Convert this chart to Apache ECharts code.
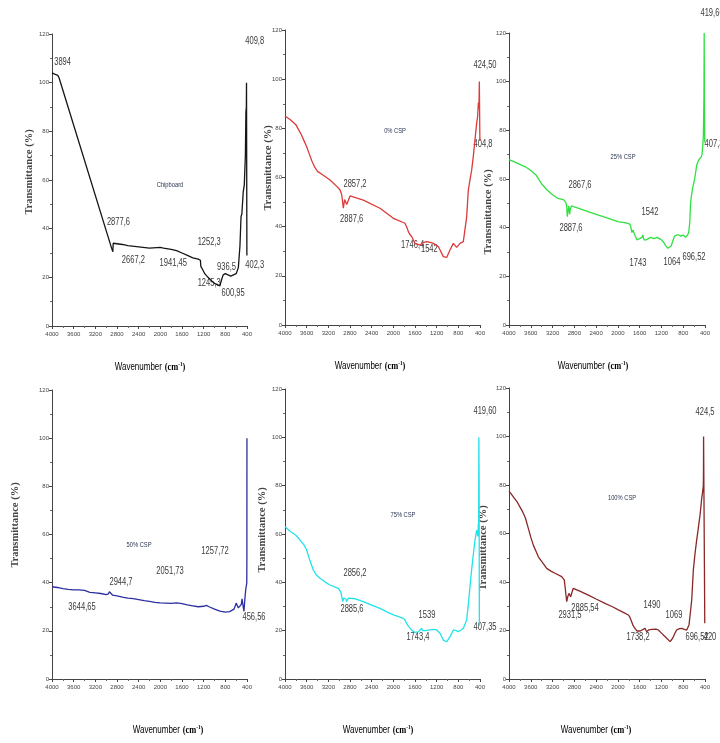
<!DOCTYPE html>
<html>
<head>
<meta charset="utf-8">
<script src="https://cdn.jsdelivr.net/npm/echarts@6/dist/echarts.min.js"></script>
<style>
  html, body { margin: 0; padding: 0; background: #fff; }
  #chart { width: 720px; height: 743px; }
</style>
</head>
<body>
<div id="chart"></div>
<script>
// FTIR spectra, [wavenumber cm-1, transmittance %]
const chipboard = [[4000,104],[3980,104.5],[3950,103.5],[3894,103],[3870,102],[2900,32],[2877,30.5],[2870,34],[2850,34],[2700,33.5],[2600,33],[2400,32.5],[2200,32],[2000,32.3],[1941,32],[1800,31.5],[1700,31],[1600,30],[1500,29],[1400,28],[1300,27.5],[1260,27],[1252,24.5],[1235,25],[1215,23],[1180,21.5],[1120,20],[1050,18.5],[1000,17.5],[950,17],[920,17.5],[900,16.5],[870,19],[840,21],[800,21.5],[750,21],[700,20.5],[650,21],[600,21.5],[560,24],[530,33],[510,45],[495,46],[470,55],[450,58],[430,70],[420,88],[412,90],[409,100],[405,100],[402,29]];

const csp0 = [[4000,85],[3900,83.5],[3800,81.5],[3750,79.5],[3700,77.5],[3650,75],[3600,72.5],[3550,69.5],[3500,66.5],[3446,64],[3400,62.5],[3300,61],[3169,59],[3050,56.5],[2985,55],[2953,53],[2923,47.5],[2900,51],[2880,50.8],[2860,49],[2843,49.5],[2800,52.5],[2554,50.8],[2246,47.5],[2000,43.4],[1785,41.4],[1746,39.5],[1723,38],[1700,37],[1662,36],[1600,33.2],[1508,32.5],[1450,33.5],[1384,33.9],[1300,33.5],[1262,33.2],[1169,31.9],[1077,27.8],[1015,27.5],[954,30.5],[892,33.2],[831,31.6],[769,33.2],[708,33.9],[646,44],[615,55],[585,59],[554,63],[523,68.7],[492,75.5],[462,82],[443,85],[430,90.5],[420,88],[412,99],[402,74.8]];

const csp25 = [[4000,68],[3900,67],[3800,66],[3700,65],[3600,63.5],[3500,61.5],[3400,58],[3300,55.5],[3200,53.5],[3100,52],[3000,51.5],[2960,50.5],[2940,49],[2930,44.5],[2915,47],[2900,49],[2887,45.5],[2870,48],[2850,49],[2800,48.5],[2600,47],[2400,45.5],[2200,44],[2000,42.5],[1850,42],[1780,41.5],[1760,40],[1743,38],[1720,39],[1700,37.5],[1650,35],[1600,35.5],[1580,35],[1560,36],[1542,37],[1520,35],[1480,35],[1440,35.5],[1400,36],[1340,35.5],[1280,36],[1240,35.5],[1200,35],[1160,34],[1120,32.5],[1080,31.5],[1050,31.5],[1020,32.5],[1000,34],[960,36.5],[920,37],[880,37],[840,36.5],[800,37],[760,36],[720,37],[700,38],[680,42],[665,50],[650,53],[630,56],[610,58],[590,60],[570,63],[550,66],[530,67],[510,68],[490,68.5],[470,69],[455,70],[440,74],[430,78],[425,85],[420,93],[418,100],[415,120],[410,90],[405,75]];

const csp50 = [[4000,38.3],[3900,38],[3800,37.5],[3700,37.2],[3600,37],[3500,37],[3400,36.8],[3300,36],[3200,35.8],[3100,35.5],[3000,35],[2960,35.3],[2940,36.2],[2920,35.5],[2880,34.8],[2800,34.5],[2700,34],[2600,33.6],[2500,33.4],[2400,33],[2300,32.5],[2200,32.2],[2100,31.8],[2000,31.6],[1900,31.5],[1800,31.4],[1700,31.6],[1600,31.3],[1500,30.8],[1400,30.4],[1300,30],[1200,30.2],[1150,30.6],[1100,30],[1000,29],[900,28.2],[800,27.8],[720,28],[680,28.5],[640,29],[600,31.5],[583,31.3],[560,29.5],[534,28.8],[505,31],[491,33.3],[470,30],[456,28.1],[440,33],[423,37.3],[410,39],[404,40],[402,52],[401,100]];

const csp75 = [[4000,63],[3900,61],[3800,59.5],[3723,57.5],[3650,55.5],[3600,53.4],[3540,49],[3477,45.1],[3420,43],[3354,41.7],[3250,40],[3169,38.9],[3016,37.5],[2972,36.1],[2950,34],[2935,32],[2915,33.5],[2892,34],[2875,33],[2862,32],[2830,33.5],[2800,34],[2700,33.2],[2554,32],[2400,30.6],[2246,29.2],[2100,27.6],[2000,26.5],[1900,25.8],[1815,25.1],[1780,24.2],[1754,23],[1720,21.8],[1692,21],[1660,20.2],[1631,19.6],[1600,19.3],[1569,18.9],[1540,19.5],[1508,20.3],[1477,21],[1460,20],[1446,19.6],[1400,20],[1323,20.3],[1260,20.5],[1200,20.3],[1170,19.8],[1138,18.9],[1100,17.2],[1077,16.1],[1015,15.4],[985,16.2],[954,17.5],[920,19],[892,20.3],[840,20],[800,19.6],[750,20.3],[708,21],[680,22.5],[646,24.4],[615,31],[585,38.2],[560,44],[535,49.2],[510,54],[492,57.5],[462,61.6],[450,62],[440,59],[430,64],[425,65],[421,100],[416,80],[412,22]];

const csp100 = [[4000,77.5],[3950,76],[3900,74.5],[3850,73],[3800,71],[3750,69],[3700,66.5],[3650,62.5],[3600,58.5],[3550,55],[3500,52.5],[3461,50.4],[3400,48.5],[3308,45.6],[3230,44.5],[3155,43.6],[3032,42.2],[2984,40.8],[2960,36],[2940,31.9],[2920,34],[2898,35.3],[2880,34.5],[2867,33.9],[2840,36],[2819,37.4],[2700,36.2],[2543,34.6],[2400,33],[2237,31.2],[2100,29.8],[1992,28.5],[1900,27.5],[1808,26.4],[1780,25.5],[1747,23.6],[1720,22],[1686,20.9],[1650,19.8],[1625,19.1],[1590,19.8],[1563,20.2],[1502,20.9],[1471,19.5],[1430,20.3],[1379,20.5],[1300,20.6],[1257,20.2],[1195,18.8],[1150,17.8],[1103,16.8],[1042,15.4],[1010,16.3],[982,17.4],[950,19],[920,20.2],[870,20.8],[828,20.9],[780,20.5],[736,20.2],[694,22.3],[670,27],[644,32.6],[614,45],[583,51.8],[553,57.3],[530,61],[510,64.5],[493,67.3],[475,71],[462,74.2],[445,77],[431,79.7],[428,85],[426,100],[404,23]];

// peak labels: [wavenumber, transmittance, text]
const chipboardPeaks = [[3804,108.5,'3894'],[2773,42.9,'2877,6'],[2497,27.2,'2667,2'],[1761,25.8,'1941,45'],[1098,34.3,'1252,3'],[779,24.4,'936,5'],[1098,17.8,'1245,3'],[656,13.4,'600,95'],[258,25.1,'402,3'],[258,116.9,'409,8']];
const csp0Peaks = [[2708,57.4,'2857,2'],[2770,43,'2887,6'],[1643,32.7,'1746,4'],[1335,30.9,'1542'],[308,105.8,'424,50'],[345,73.6,'404,8']];
const csp25Peaks = [[271,128,'419,60'],[235,74.4,'407,3'],[2696,57.5,'2867,6'],[2861,39.9,'2887,6'],[1410,46.4,'1542'],[1630,25.5,'1743'],[1006,25.9,'1064'],[602,27.9,'696,52']];
const csp50Peaks = [[991,53.2,'1257,72'],[1822,44.8,'2051,73'],[2726,40.3,'2944,7'],[3446,29.9,'3644,65'],[271,25.7,'456,56']];
const csp75Peaks = [[308,110.7,'419,60'],[2708,44,'2856,2'],[2763,29,'2885,6'],[1379,26.5,'1539'],[1545,17.5,'1743,4'],[308,21.5,'407,35']];
const csp100Peaks = [[400,110.1,'424,5'],[2880,26.4,'2931,5'],[2604,29.3,'2885,54'],[1373,30.5,'1490'],[1630,17.3,'1738,2'],[969,26.4,'1069'],[547,17.3,'696,52'],[308,17.3,'420']];

const sampleNames = ['Chipboard', '0% CSP', '25% CSP', '50% CSP', '75% CSP', '100% CSP'];
const sampleTagAt = [[1822,58],[1969,78.9],[1906,69],[2394,55.6],[1822,67.8],[1924,74.6]];
const spectra = [chipboard, csp0, csp25, csp50, csp75, csp100];
const peaks = [chipboardPeaks, csp0Peaks, csp25Peaks, csp50Peaks, csp75Peaks, csp100Peaks];
const colors = ['#151515', '#dd3a3a', '#2fe040', '#2b2fa0', '#22e2ea', '#8a2828'];

// layout: grid box [left, top, width, height], x title [cx, cy], y title [cx, cy]
const boxes = [[52,34,195,292],[285,30,195,295],[509,33,196,292],[52,390,195,289],[285,389,195,290],[509,388,196,291]];
const xTitleAt = [[150,367],[370,366],[593,366],[168,730],[378,730],[596,730]];
const yTitleAt = [[29,172],[268,168],[488,212],[15,525],[262,530],[483,548]];

const sansFont = "'Liberation Sans', Arial, sans-serif";
const serifFont = "'Liberation Serif', 'Times New Roman', serif";
const tickFont = {fontFamily: sansFont, fontSize: 6, color: '#444'};

const chart = echarts.init(document.getElementById('chart'));

const grid = [], xAxis = [], yAxis = [], series = [];
boxes.forEach((b, i) => {
  grid.push({left: b[0], top: b[1], width: b[2], height: b[3]});
  xAxis.push({
    type: 'value', gridIndex: i, min: 400, max: 4000, interval: 400, inverse: true,
    axisLine: {lineStyle: {color: '#444', width: 1}},
    axisTick: {length: 3, lineStyle: {color: '#444'}},
    minorTick: {show: true, splitNumber: 2, length: 2, lineStyle: {color: '#666'}},
    axisLabel: Object.assign({margin: 5, formatter: v => String(v)}, tickFont),
    splitLine: {show: false}
  });
  yAxis.push({
    type: 'value', gridIndex: i, min: 0, max: 120, interval: 20,
    axisLine: {show: true, lineStyle: {color: '#444', width: 1}},
    axisTick: {show: true, length: 3, lineStyle: {color: '#444'}},
    minorTick: {show: true, splitNumber: 2, length: 2, lineStyle: {color: '#666'}},
    axisLabel: Object.assign({margin: 3, formatter: v => String(v)}, tickFont),
    splitLine: {show: false}
  });
  series.push({
    type: 'line', xAxisIndex: i, yAxisIndex: i, data: spectra[i],
    symbol: 'none', clip: false,
    lineStyle: {color: colors[i], width: 1.3}
  });
});

chart.setOption({animation: false, grid, xAxis, yAxis, series});

const graphic = [];
peaks.forEach((list, i) => {
  list.forEach(p => {
    const pt = chart.convertToPixel({gridIndex: i}, [p[0], p[1]]);
    graphic.push({
      type: 'text', x: pt[0], y: pt[1], scaleX: 0.72,
      style: {text: p[2], fill: '#3a3a3a', font: '10.5px ' + sansFont, textAlign: 'center', textVerticalAlign: 'middle'}
    });
  });
  const tp = chart.convertToPixel({gridIndex: i}, sampleTagAt[i]);
  graphic.push({
    type: 'text', x: tp[0], y: tp[1], scaleX: 0.72,
    style: {text: sampleNames[i], fill: '#2a3550', font: '8px ' + sansFont, textAlign: 'center', textVerticalAlign: 'middle'}
  });
  graphic.push({
    type: 'text', x: xTitleAt[i][0], y: xTitleAt[i][1], scaleX: 0.8,
    style: {
      text: '{a|Wavenumber} {b|(cm}{s|-1}{b|)}',
      textAlign: 'center', textVerticalAlign: 'middle',
      rich: {
        a: {fontFamily: sansFont, fontSize: 10, color: '#6a5a80'},
        b: {fontFamily: serifFont, fontSize: 10.5, fontWeight: 'bold', color: '#222'},
        s: {fontFamily: serifFont, fontSize: 6.5, fontWeight: 'bold', color: '#222', verticalAlign: 'top', padding: [0, 0, 5, 0]}
      }
    }
  });
  graphic.push({
    type: 'text', x: yTitleAt[i][0], y: yTitleAt[i][1], rotation: Math.PI / 2,
    style: {text: 'Transmittance (%)', fill: '#444', font: 'bold 10.5px ' + serifFont, textAlign: 'center', textVerticalAlign: 'middle'}
  });
});

chart.setOption({graphic});
</script>
</body>
</html>
